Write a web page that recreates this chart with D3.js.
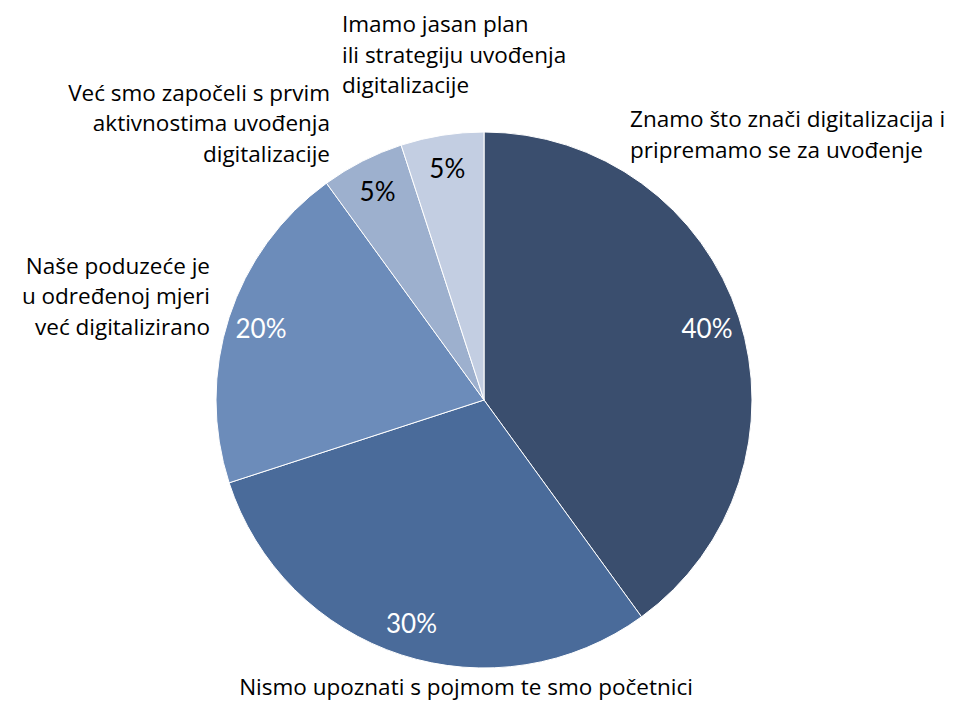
<!DOCTYPE html>
<html>
<head>
<meta charset="utf-8">
<script src="https://cdn.jsdelivr.net/npm/d3@7"></script>
<style>
  html, body { margin: 0; padding: 0; background: #fff; overflow: hidden; }
  svg { display: block; font-family: Lato, "Liberation Sans", sans-serif; }
</style>
</head>
<body>
<svg id="chart" width="959" height="701"></svg>
<script>
// ---- data ----
const categories = [
  "Znamo što znači digitalizacija i pripremamo se za uvođenje",
  "Nismo upoznati s pojmom te smo početnici",
  "Naše poduzeće je u određenoj mjeri već digitalizirano",
  "Već smo započeli s prvim aktivnostima uvođenja digitalizacije",
  "Imamo jasan plan ili strategiju uvođenja digitalizacije"
];
const values = [40, 30, 20, 5, 5];
const percentLabels = ["40%", "30%", "20%", "5%", "5%"];
// category labels as displayed lines
const labelLines = [
  ["Znamo što znači digitalizacija i", "pripremamo se za uvođenje"],
  ["Nismo upoznati s pojmom te smo početnici"],
  ["Naše poduzeće je", "u određenoj mjeri", "već digitalizirano"],
  ["Već smo započeli s prvim", "aktivnostima uvođenja", "digitalizacije"],
  ["Imamo jasan plan", "ili strategiju uvođenja", "digitalizacije"]
];
const colors = ["#3a4e6e", "#4a6b9a", "#6c8cba", "#9db0ce", "#c3cee2"];
const pctColors = ["#ffffff", "#ffffff", "#ffffff", "#000000", "#000000"];

// ---- layout ----
const cx = 484, cy = 400, R = 268;
const svg = d3.select("#chart");
const g = svg.append("g").attr("transform", `translate(${cx},${cy})`);

const pie = d3.pie().sort(null).value(d => d)(values);
const arc = d3.arc().innerRadius(0).outerRadius(R);
const labelArc = d3.arc().innerRadius(R * 0.875).outerRadius(R * 0.875);

g.selectAll("path.slice").data(pie).join("path")
  .attr("class", "slice")
  .attr("d", arc)
  .attr("fill", (d, i) => colors[i])
  .attr("stroke", "#ffffff")
  .attr("stroke-width", 1);

g.selectAll("text.pct").data(pie).join("text")
  .attr("class", "pct")
  .attr("transform", d => `translate(${labelArc.centroid(d)})`)
  .attr("text-anchor", "middle")
  .attr("dominant-baseline", "central")
  .attr("font-size", 26)
  .attr("fill", (d, i) => pctColors[i])
  .text((d, i) => percentLabels[i]);

// category labels (outside), positioned by anchor and baseline of first line
const catPos = [
  { x: 630, y: 127, anchor: "start" },
  { x: 466, y: 694.5, anchor: "middle" },
  { x: 210, y: 273.5, anchor: "end" },
  { x: 330, y: 100.5, anchor: "end" },
  { x: 342, y: 32, anchor: "start" }
];
const lineH = 30.5;
const catG = svg.append("g");
labelLines.forEach((lines, i) => {
  const p = catPos[i];
  const t = catG.append("text")
    .attr("x", p.x).attr("y", p.y)
    .attr("text-anchor", p.anchor)
    .attr("font-family", "'Open Sans', sans-serif")
    .attr("font-size", 22.5)
    .attr("fill", "#000");
  lines.forEach((ln, j) => {
    t.append("tspan").attr("x", p.x).attr("y", p.y + j * lineH).text(ln);
  });
});
</script>
</body>
</html>
